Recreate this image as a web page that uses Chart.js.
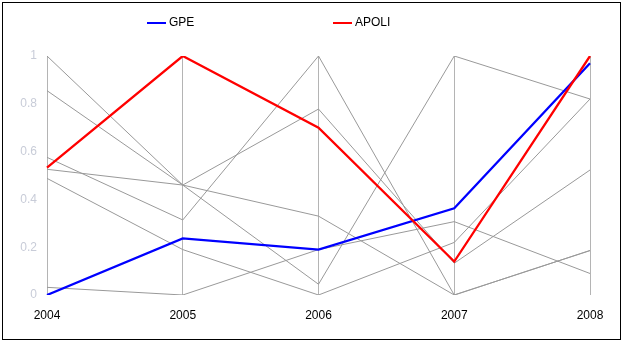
<!DOCTYPE html>
<html>
<head>
<meta charset="utf-8">
<script src="https://cdn.jsdelivr.net/npm/chart.js@4/dist/chart.umd.min.js"></script>
<style>
  html, body { margin: 0; padding: 0; background: #fff; }
  #wrap { width: 623px; height: 343px; }
</style>
</head>
<body>
<div id="wrap"><canvas id="c" width="623" height="343"></canvas></div>
<script>
// Years along the horizontal axis
const years = ['2004', '2005', '2006', '2007', '2008'];

// Highlighted series (normalised 0..1)
const gpe   = [0, 0.237, 0.19, 0.363, 0.97];
const apoli = [0.533, 1, 0.70, 0.14, 1];

// Remaining peers, drawn as thin grey polylines
const peer1 = [1, 0.46, 0.778, 0.133, 0.523];
const peer2 = [0.855, 0.46, 0.33, 0, 0.186];
const peer3 = [0.576, 0.314, 1, 0, 0.186];
const peer4 = [0.526, 0.46, 0.045, 1, 0.82];
const peer5 = [0.488, 0.19, 0, 0.22, 0.82];
const peer6 = [0.032, 0, 0.19, 0.307, 0.09];

const peers = [peer1, peer2, peer3, peer4, peer5, peer6];

// Y tick values shown on the left
const yTicks = [0, 0.2, 0.4, 0.6, 0.8, 1];

const legendItems = [
  { text: 'GPE', color: '#0000ff', x: 147 },
  { text: 'APOLI', color: '#ff0000', x: 333 }
];

const frame = {
  id: 'frame',
  beforeDraw(chart) {
    const ctx = chart.ctx;
    ctx.save();
    ctx.fillStyle = '#ffffff';
    ctx.fillRect(0, 0, chart.width, chart.height);
    ctx.restore();
  },
  afterDraw(chart) {
    const ctx = chart.ctx;
    ctx.save();
    ctx.strokeStyle = '#000000';
    ctx.lineWidth = 1;
    ctx.strokeRect(2.5, 2.5, 618, 337);
    // legend row
    ctx.font = '12px "Liberation Sans", Arial, sans-serif';
    ctx.textBaseline = 'middle';
    legendItems.forEach(it => {
      ctx.strokeStyle = it.color;
      ctx.lineWidth = 2;
      ctx.beginPath();
      ctx.moveTo(it.x, 23);
      ctx.lineTo(it.x + 19, 23);
      ctx.stroke();
      ctx.fillStyle = '#000000';
      ctx.fillText(it.text, it.x + 22, 23);
    });
    ctx.restore();
  }
};

const datasets = [
  { label: 'APOLI', data: apoli, borderColor: '#ff0000', borderWidth: 2.3, order: 1 },
  { label: 'GPE', data: gpe, borderColor: '#0000ff', borderWidth: 2.3, order: 2 }
];
peers.forEach(p => datasets.push({
  label: '', data: p, borderColor: '#999999', borderWidth: 1, order: 3
}));
datasets.forEach(d => {
  d.pointRadius = 0;
  d.pointHoverRadius = 0;
  d.tension = 0;
  d.fill = false;
});

new Chart(document.getElementById('c'), {
  type: 'line',
  data: { labels: years, datasets },
  options: {
    responsive: false,
    animation: false,
    events: [],
    layout: { padding: { top: 56, right: 33, bottom: 0, left: 0 } },
    plugins: { legend: { display: false }, tooltip: { enabled: false } },
    scales: {
      x: {
        offset: false,
        grid: { display: true, color: '#b4b4b4', lineWidth: 1, drawTicks: false },
        border: { display: false },
        ticks: {
          color: '#000000',
          font: { family: '"Liberation Sans", Arial, sans-serif', size: 12 },
          padding: 13,
          maxRotation: 0,
          autoSkip: false
        },
        afterFit(scale) { scale.height = 48; }
      },
      y: {
        min: 0,
        max: 1,
        grid: { display: false, drawTicks: false },
        border: { display: false },
        afterBuildTicks(scale) { scale.ticks = yTicks.map(v => ({ value: v })); },
        ticks: {
          color: '#c8ccd8',
          font: { family: '"Liberation Sans", Arial, sans-serif', size: 12 },
          padding: 10,
          callback: v => String(v)
        },
        afterFit(scale) { scale.width = 47; }
      }
    }
  },
  plugins: [frame]
});
</script>
</body>
</html>
